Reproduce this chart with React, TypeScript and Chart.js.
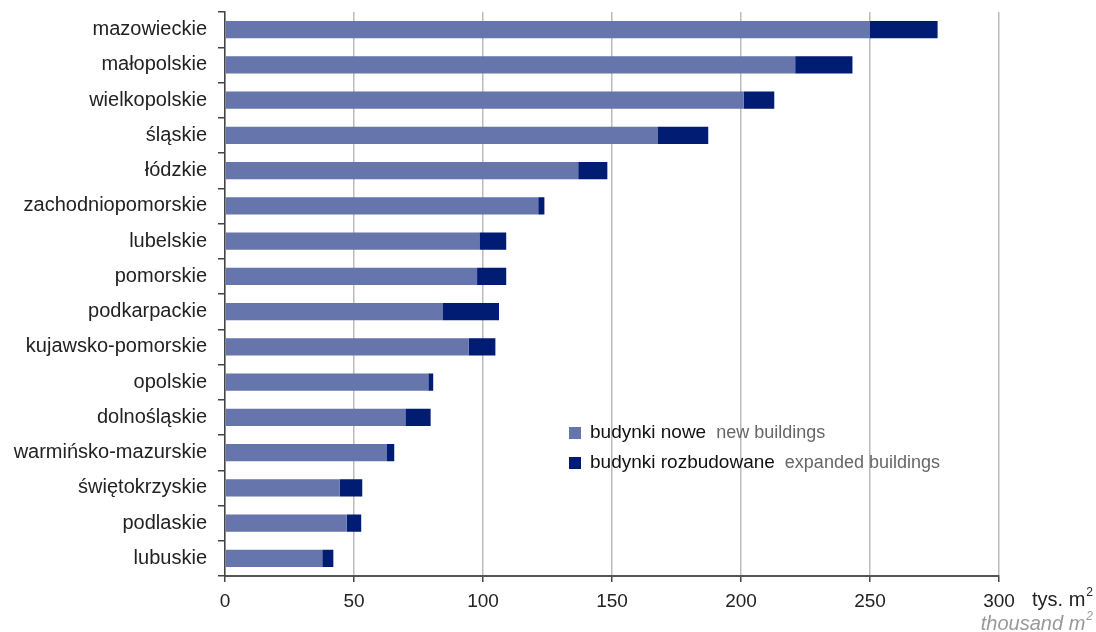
import React, { useEffect, useRef } from "react";
import { Chart, registerables } from "chart.js";

Chart.register(...registerables);

const categories = [
  "mazowieckie",
  "małopolskie",
  "wielkopolskie",
  "śląskie",
  "łódzkie",
  "zachodniopomorskie",
  "lubelskie",
  "pomorskie",
  "podkarpackie",
  "kujawsko-pomorskie",
  "opolskie",
  "dolnośląskie",
  "warmińsko-mazurskie",
  "świętokrzyskie",
  "podlaskie",
  "lubuskie",
];

const newBuildings = [250, 221, 201, 167.6, 136.9, 121.4, 98.6, 97.7, 84.5, 94.4, 78.8, 69.9, 62.8, 44.4, 47.2, 37.7];
const expandedBuildings = [26.2, 22.2, 11.9, 19.7, 11.3, 2.4, 10.4, 11.3, 21.7, 10.4, 1.9, 9.8, 2.8, 8.8, 5.6, 4.3];

const xTicks = [0, 50, 100, 150, 200, 250, 300];

const legendItems = [
  { pl: "budynki nowe", en: "new buildings", color: "#6675AB" },
  { pl: "budynki rozbudowane", en: "expanded buildings", color: "#001C73" },
];

const FONT = "'Liberation Sans', Arial, sans-serif";

const extrasPlugin = {
  id: "extras",
  afterDraw(chart: any) {
    const ctx = chart.ctx as CanvasRenderingContext2D;
    ctx.save();
    ctx.textBaseline = "middle";
    ctx.textAlign = "left";
    ctx.fillStyle = "#222";
    const unitY = 600;
    const tys = "tys. m";
    const supFont = `12px ${FONT}`;
    ctx.font = supFont;
    const supW = ctx.measureText("2").width;
    ctx.font = `20px ${FONT}`;
    const tysW = ctx.measureText(tys).width;
    const rightEdge = 1092;
    const startX = rightEdge - supW - tysW;
    ctx.fillText(tys, startX, unitY);
    ctx.font = supFont;
    ctx.fillText("2", startX + tysW + 1, unitY - 7);

    ctx.fillStyle = "#999";
    ctx.font = `italic 20px ${FONT}`;
    const th = "thousand m";
    const thW = ctx.measureText(th).width;
    ctx.font = `italic 12px ${FONT}`;
    const supW2 = ctx.measureText("2").width;
    const sx2 = rightEdge - supW2 - thW;
    ctx.font = `italic 20px ${FONT}`;
    ctx.fillText(th, sx2, 624);
    ctx.font = `italic 12px ${FONT}`;
    ctx.fillText("2", sx2 + thW + 1, 617);

    const lx = 569;
    const rows = [433, 463];
    legendItems.forEach((it, i) => {
      const y = rows[i];
      ctx.fillStyle = it.color;
      ctx.fillRect(lx, y - 6, 12, 12);
      ctx.font = `19px ${FONT}`;
      ctx.fillStyle = "#111";
      ctx.textAlign = "left";
      ctx.fillText(it.pl, lx + 21, y);
      const w = ctx.measureText(it.pl).width;
      ctx.fillStyle = "#666";
      ctx.font = `18px ${FONT}`;
      ctx.fillText(it.en, lx + 21 + w + 10, y);
    });
    ctx.restore();
  },
};

export default function App() {
  const canvasRef = useRef<HTMLCanvasElement | null>(null);

  useEffect(() => {
    document.body.style.margin = "0";
    const canvas = canvasRef.current;
    if (!canvas) return;
    const chart = new Chart(canvas, {
      type: "bar",
      data: {
        labels: categories,
        datasets: [
          {
            label: legendItems[0].pl,
            data: newBuildings,
            backgroundColor: legendItems[0].color,
            borderWidth: 0,
            categoryPercentage: 1,
            barPercentage: 0.49,
          },
          {
            label: legendItems[1].pl,
            data: expandedBuildings,
            backgroundColor: legendItems[1].color,
            borderWidth: 0,
            categoryPercentage: 1,
            barPercentage: 0.49,
          },
        ],
      },
      options: {
        indexAxis: "y",
        animation: false,
        responsive: false,
        maintainAspectRatio: false,
        layout: { padding: { top: 12, right: 97, left: 0, bottom: 0 } },
        plugins: {
          legend: { display: false },
          tooltip: { enabled: false },
          title: { display: false },
        },
        scales: {
          x: {
            stacked: true,
            min: 0,
            max: 300,
            afterBuildTicks(scale: any) {
              scale.ticks = xTicks.map((v) => ({ value: v }));
            },
            afterFit(scale: any) {
              scale.height = 56;
              scale.paddingLeft = 0;
              scale.paddingRight = 0;
            },
            grid: {
              color: "#BBBBBB",
              lineWidth: 1.5,
              tickColor: "#444",
              tickLength: 6,
              drawTicks: true,
            },
            border: { color: "#555", width: 2 },
            ticks: {
              color: "#222",
              font: { family: FONT, size: 19 },
              padding: 8,
              maxRotation: 0,
            },
          },
          y: {
            stacked: true,
            afterFit(scale: any) {
              scale.width = 225;
              scale.paddingTop = 0;
              scale.paddingBottom = 0;
            },
            grid: {
              drawOnChartArea: false,
              drawTicks: true,
              tickLength: 7,
              tickColor: "#444",
              lineWidth: 1.5,
            },
            border: { color: "#444", width: 1.5 },
            ticks: {
              color: "#222",
              font: { family: FONT, size: 20 },
              padding: 11,
              autoSkip: false,
            },
          },
        },
      },
      plugins: [extrasPlugin],
    } as any);
    return () => chart.destroy();
  }, []);

  return (
    <div style={{ width: 1096, height: 632, position: "relative", background: "#fff" }}>
      <canvas ref={canvasRef} width={1096} height={632} style={{ display: "block" }} />
    </div>
  );
}
